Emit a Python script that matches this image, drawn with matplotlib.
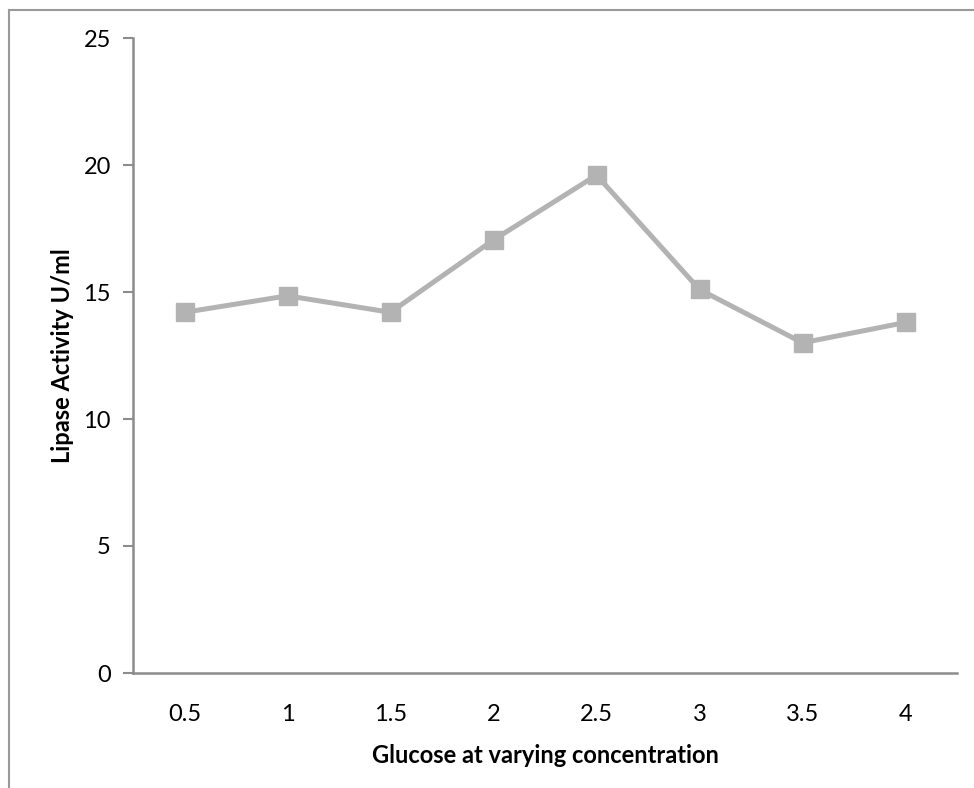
import matplotlib
matplotlib.use("Agg")
import matplotlib.pyplot as plt
from matplotlib.lines import Line2D

categories = ["0.5", "1", "1.5", "2", "2.5", "3", "3.5", "4"]
activity = [14.2, 14.85, 14.2, 17.05, 19.6, 15.1, 13.0, 13.8]
yticks = [0, 5, 10, 15, 20, 25]

plt.rcParams['font.family'] = ['Lato', 'DejaVu Sans']

W, H = 974, 788
fig = plt.figure(figsize=(W / 100, H / 100), dpi=100)
ax = fig.add_axes([133 / W, (H - 673) / H, (957 - 133) / W, (673 - 38) / H])

x = list(range(len(categories)))
ax.plot(x, activity, color='#b3b3b3', lw=3.6, marker='s', markersize=13,
        markerfacecolor='#b3b3b3', markeredgecolor='#b3b3b3', solid_joinstyle='miter')

ax.set_xlim(-0.5, len(categories) - 0.5)
ax.set_ylim(0, 25)
ax.set_xticks(x)
ax.set_xticklabels(categories)
ax.set_yticks(yticks)
ax.tick_params(axis='x', length=0, pad=22, labelsize=17, colors='black')
ax.tick_params(axis='y', length=7, width=1.5, color='#8c8c8c', pad=9, labelsize=17)
for s in ['top', 'right']:
    ax.spines[s].set_visible(False)
for s in ['left', 'bottom']:
    ax.spines[s].set_color('#8c8c8c')
    ax.spines[s].set_linewidth(1.8)

ax.set_xlabel('Glucose at varying concentration', fontsize=17, fontweight='bold', labelpad=14)
ax.set_ylabel('Lipase Activity U/ml', fontsize=17, fontweight='bold', labelpad=7)

# outer chart border (top and left visible)
fig.add_artist(Line2D([9 / W, 9 / W], [0, 1 - 10 / H], transform=fig.transFigure, color='#999999', lw=1.5))
fig.add_artist(Line2D([9 / W, 1], [1 - 10 / H, 1 - 10 / H], transform=fig.transFigure, color='#999999', lw=1.5))

fig.savefig('out.png', dpi=100)
